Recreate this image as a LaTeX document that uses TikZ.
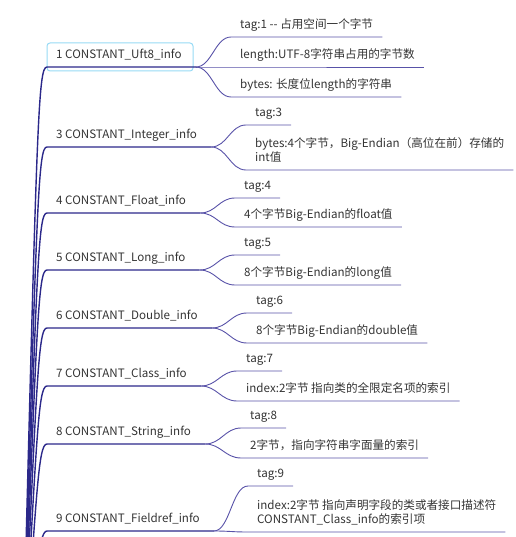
\documentclass[tikz,border=0pt]{standalone}
\usepackage{fontspec}
\setmainfont{Noto Sans CJK SC}
\usetikzlibrary{calc}
\definecolor{lineblue}{RGB}{43,40,138}
\definecolor{twigblue}{RGB}{88,82,168}
\definecolor{txtgray}{RGB}{51,51,51}
\definecolor{selcyan}{RGB}{150,218,245}

\begin{document}
\begin{tikzpicture}[x=1pt,y=-1pt,
	topic/.style={anchor=south west,inner xsep=9pt,inner ysep=0pt,text depth=8pt,text=txtgray,align=left,font=\fontsize{11.6}{14}\selectfont},
	trunk/.style={draw=lineblue,line width=1.4pt},
	twig/.style={draw=twigblue,line width=0.9pt}]
	\useasboundingbox (0,0) rectangle (515,537);
	\clip (0,0) rectangle (515,537);
	\coordinate (root) at (22,700);
	\draw[rounded corners=3pt,draw=selcyan,line width=1pt] (47,43) rectangle (193,71);
	\node[topic] (b1) at (47,67) {1 CONSTANT\_Uft8\_info};
	\node[topic] (b3) at (47,147) {3 CONSTANT\_Integer\_info};
	\node[topic] (b4) at (47,213) {4 CONSTANT\_Float\_info};
	\node[topic] (b5) at (47,270) {5 CONSTANT\_Long\_info};
	\node[topic] (b6) at (47,328) {6 CONSTANT\_Double\_info};
	\node[topic] (b7) at (47,386) {7 CONSTANT\_Class\_info};
	\node[topic] (b8) at (47,444) {8 CONSTANT\_String\_info};
	\node[topic] (b9) at (47,531) {9 CONSTANT\_Fieldref\_info};
	\foreach \b in {1,3,4,5,6,7,8,9}
		\coordinate (j\b) at ($(b\b.south east)+(5,0)$);
	\node[topic] (tag1) at (231,37) {tag:1 -{}- 占用空间一个字节};
	\node[topic] (len1) at (231,67) {length:UTF-8字符串占用的字节数};
	\node[topic] (bytes1) at (231,97) {bytes: 长度位length的字符串};
	\node[topic] (tag3) at (246,125) {tag:3};
	\node[topic] (bytes3) at (246,170) {bytes:4个字节，Big-Endian（高位在前）存储的\\int值};
	\node[topic] (tag4) at (235,198) {tag:4};
	\node[topic] (val4) at (235,227) {4个字节Big-Endian的float值};
	\node[topic] (tag5) at (235,255) {tag:5};
	\node[topic] (val5) at (235,285) {8个字节Big-Endian的long值};
	\node[topic] (tag6) at (247,313) {tag:6};
	\node[topic] (val6) at (247,343) {8个字节Big-Endian的double值};
	\node[topic] (tag7) at (237,371) {tag:7};
	\node[topic] (idx7) at (237,401) {index:2字节 指向类的全限定名项的索引};
	\node[topic] (tag8) at (241,428) {tag:8};
	\node[topic] (idx8) at (241,458) {2字节，指向字符串字面量的索引};
	\node[topic] (tag9) at (248,486) {tag:9};
	\node[topic] (idx9) at (248,532) {index:2字节 指向声明字段的类或者接口描述符\\CONSTANT\_Class\_info的索引项};
	\foreach \b in {1,3,4,5,6,7,8,9}
		\draw[trunk] (root) .. controls ($(b\b.south west)+(-10,50)$) and ($(b\b.south west)+(-9,0)$) .. (b\b.south west) -- (j\b);
	\foreach \j/\c in {1/tag1,1/len1,1/bytes1,3/tag3,3/bytes3,4/tag4,4/val4,5/tag5,5/val5,6/tag6,6/val6,7/tag7,7/idx7,8/tag8,8/idx8,9/tag9,9/idx9}
		\draw[twig] (j\j) .. controls +(16,0) and +(-16,0) .. (\c.south west) -- (\c.south east);
\end{tikzpicture}
\end{document}
